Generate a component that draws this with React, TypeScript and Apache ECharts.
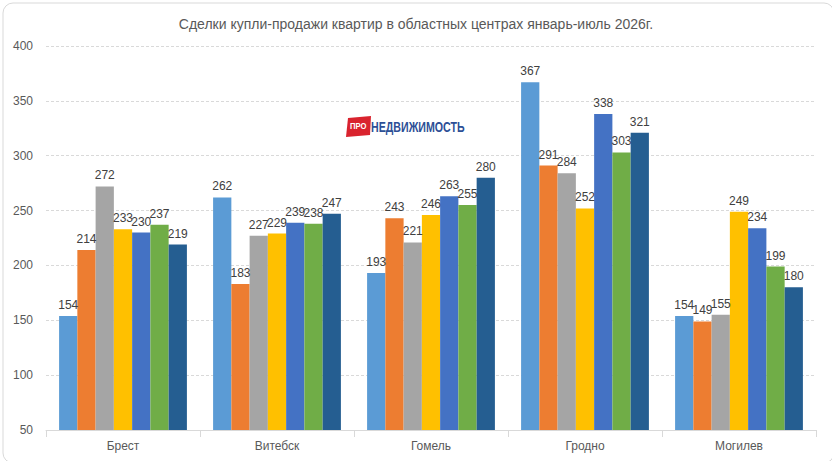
import * as echarts from 'echarts'
import React, { useEffect, useRef } from 'react'

const categories = ['Брест', 'Витебск', 'Гомель', 'Гродно', 'Могилев']
const months = ['Январь', 'Февраль', 'Март', 'Апрель', 'Май', 'Июнь', 'Июль']
const colors = ['#5B9BD5', '#ED7D31', '#A5A5A5', '#FFC000', '#4472C4', '#70AD47', '#255E91']

const jan = [154, 262, 193, 367, 154]
const feb = [214, 183, 243, 291, 149]
const mar = [272, 227, 221, 284, 155]
const apr = [233, 229, 246, 252, 249]
const may = [230, 239, 263, 338, 234]
const jun = [237, 238, 255, 303, 199]
const jul = [219, 247, 280, 321, 180]
const seriesValues = [jan, feb, mar, apr, may, jun, jul]

const font = '"Liberation Sans Narrow", "Liberation Sans", sans-serif'

const App: React.FC = () => {
  const chartRef = useRef<HTMLDivElement>(null)

  useEffect(() => {
    document.body.style.margin = '0'
    const chart = echarts.init(chartRef.current!, null, { renderer: 'svg' })
    chart.setOption({
      animation: false,
      backgroundColor: '#fff',
      title: {
        text: 'Сделки купли-продажи квартир в областных центрах январь-июль 2026г.',
        left: 'center',
        top: 12,
        textStyle: { fontFamily: font, fontSize: 14, fontWeight: 'normal', color: '#595959' }
      },
      grid: { left: 46, right: 16, top: 46, bottom: 31 },
      xAxis: {
        type: 'category',
        data: categories,
        axisLine: { lineStyle: { color: '#d9d9d9' } },
        axisTick: { show: true, length: 7, lineStyle: { color: '#d9d9d9' } },
        axisLabel: { fontFamily: font, fontSize: 12, color: '#595959', margin: 10 }
      },
      yAxis: {
        type: 'value',
        min: 50,
        max: 400,
        interval: 50,
        axisLine: { show: false },
        axisTick: { show: false },
        axisLabel: { fontFamily: font, fontSize: 12, color: '#595959', margin: 13 },
        splitLine: { lineStyle: { color: '#d9d9d9', type: [3, 2] } }
      },
      series: seriesValues.map((vals, i) => ({
        name: months[i],
        type: 'bar',
        data: vals,
        barGap: '0%',
        barCategoryGap: '17%',
        itemStyle: { color: colors[i] },
        label: {
          show: true,
          position: 'top',
          distance: 5,
          fontFamily: font,
          fontSize: 12,
          color: '#404040'
        }
      })),
      graphic: [
        {
          type: 'rect',
          left: 0.5,
          top: 0.5,
          shape: { width: 831, height: 460, r: 10 },
          style: { fill: 'none', stroke: '#d9d9d9', lineWidth: 1 },
          silent: true
        },
        {
          type: 'group',
          left: 346,
          top: 116,
          children: [
            {
              type: 'polygon',
              shape: { points: [[2, 2], [25, 0], [24, 19], [0, 21]] },
              style: { fill: '#d9232e' }
            },
            {
              type: 'text',
              x: 4,
              y: 5,
              scaleX: 0.85,
              style: { text: 'ПРО', fill: '#fff', font: 'bold 9px "Liberation Sans", sans-serif' }
            },
            {
              type: 'text',
              x: 25,
              y: 4,
              scaleX: 0.76,
              style: {
                text: 'НЕДВИЖИМОСТЬ',
                fill: '#2d4f96',
                font: 'bold 14px "Liberation Sans", sans-serif'
              }
            }
          ]
        }
      ]
    })
    return () => {
      chart.dispose()
    }
  }, [])

  return <div ref={chartRef} style={{ width: 832, height: 461 }} />
}

export default App
